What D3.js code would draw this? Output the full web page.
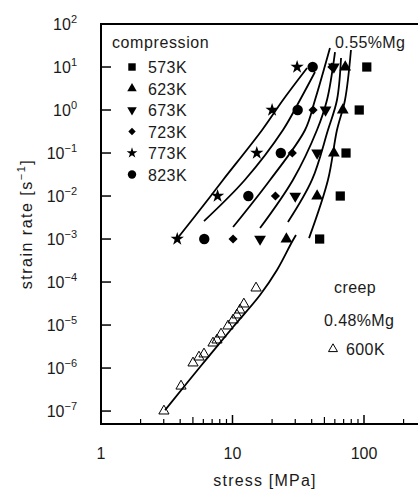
<!DOCTYPE html>
<html>
<head>
<meta charset="utf-8">
<script src="https://cdn.jsdelivr.net/npm/d3@7"></script>
<style>
  body { margin: 0; background: #fff; }
  text { font-family: "Liberation Sans", Arial, sans-serif; fill: #1a1a1a; }
</style>
</head>
<body>
<div class="canvas"></div>
<script>

// strain rates used in the compression tests
const rates = [10, 1, 0.1, 0.01, 0.001];
const temps = ['573K', '623K', '673K', '723K', '773K', '823K'];

// stress [MPa] at each strain rate, one list per temperature
const stress573 = [105, 92, 73, 66, 46];
const stress623 = [72, 69, 59, 44, 25.7];
const stress673 = [59, 51, 44, 30, 16.2];
const stress723 = [57, 41, 28.5, 21.2, 10.1];
const stress773 = [31, 20, 15.3, 7.7, 3.8];
const stress823 = [40.7, 31.3, 23.3, 13.2, 6.1];

// model curves [stress, strain rate]
const curve1 = [[3.78, 1e-3], [6.74, 9.5e-3], [8.47, 0.0236], [16.8, 0.343], [24.2, 1.71], [36.9, 9.48]];
const curve2 = [[6.07, 2.62e-3], [12.4, 0.0236], [24.2, 0.343], [32.6, 1.71], [42.4, 7.65]];
const curve3 = [[10.1, 1.9e-3], [19.3, 0.0236], [35.6, 0.343], [42.4, 1.71], [55.1, 27.7]];
const curve4 = [[16.2, 1.8e-3], [28.8, 0.0236], [43.9, 0.343], [52.3, 1.71], [60.2, 22.3]];
const curve5 = [[26.4, 2.48e-3], [40.2, 0.0236], [53.2, 0.343], [62.3, 1.71], [66.9, 16.2]];
const curve6 = [[38.2, 1.05e-3], [53.2, 0.0236], [62.3, 0.343], [71.7, 1.71], [79.6, 24.8]];

// creep, 0.48%Mg, 600K
const creepStress = [3.01, 4.06, 5.01, 5.56, 6.07, 7.11, 7.62, 8.18, 9.24, 10.1, 10.8, 11.4, 12.2, 15.1];
const creepRate = [1.0e-7, 3.8e-7, 1.31e-6, 1.8e-6, 2.12e-6, 3.81e-6, 4.48e-6, 6.17e-6, 9.48e-6, 1.31e-5, 1.71e-5, 2.23e-5, 3.08e-5, 7.25e-5];
const creepCurve = [[3.07, 1.05e-7], [5.66, 1.06e-6], [10.1, 8.99e-6], [16.2, 4.99e-5], [21.8, 1.9e-4], [28.3, 8.51e-4], [30.4, 1.24e-3]];

// axis ticks
const yTickExp = [-7, -6, -5, -4, -3, -2, -1, 0, 1, 2];
const xTickLabels = ['1', '10', '100'];
const xMinor = [2, 3, 4, 5, 6, 7, 8, 9, 20, 30, 40, 50, 60, 70, 80, 90, 200];

const width = 418, height = 492;
const svg = d3.select('.canvas')
    .append('svg')
        .attr('width', width)
        .attr('height', height);

// set scales
const x = d3.scaleLog().domain([1, 300]).range([101, 101 + 131.5 * Math.log10(300)]);
const y = d3.scaleLog().domain([5e-8, 100]).range([424, 24]);

// frame
svg.append('path')
    .attr('d', `M${x(300) + 5},24 H101 V424 H${x(300) + 5}`)
    .attr('fill', 'none')
    .attr('stroke', '#000')
    .attr('stroke-width', 2);

// y ticks (inward)
svg.selectAll('.ytick')
    .data(yTickExp.filter(e => e < 2))
    .enter().append('line')
        .attr('x1', 101).attr('x2', 111)
        .attr('y1', e => y(Math.pow(10, e)))
        .attr('y2', e => y(Math.pow(10, e)))
        .attr('stroke', '#000')
        .attr('stroke-width', 1.5);

const yLabels = svg.selectAll('.ylab')
    .data(yTickExp)
    .enter().append('text')
        .attr('x', 77)
        .attr('y', e => y(Math.pow(10, e)) + 6)
        .attr('text-anchor', 'end')
        .style('font-size', '16px');
yLabels.append('tspan').text('10');
yLabels.append('tspan')
    .attr('dy', -7)
    .style('font-size', '11px')
    .text(e => String(e).replace('-', '\u2212'));

// x ticks (inward)
svg.selectAll('.xmaj')
    .data([10, 100])
    .enter().append('line')
        .attr('x1', d => x(d)).attr('x2', d => x(d))
        .attr('y1', 424).attr('y2', 415)
        .attr('stroke', '#000').attr('stroke-width', 1.5);

svg.selectAll('.xmin')
    .data(xMinor)
    .enter().append('line')
        .attr('x1', d => x(d)).attr('x2', d => x(d))
        .attr('y1', 424).attr('y2', d => (d === 5 || d === 50) ? 417 : 419)
        .attr('stroke', '#000').attr('stroke-width', 1.2);

svg.selectAll('.xlab')
    .data(xTickLabels)
    .enter().append('text')
        .attr('x', d => x(+d))
        .attr('y', 459)
        .attr('text-anchor', 'middle')
        .style('font-size', '16px')
        .text(d => d);

// axis titles
svg.append('text')
    .attr('x', 265).attr('y', 486)
    .attr('text-anchor', 'middle')
    .style('font-size', '16px')
    .style('letter-spacing', '1.2px')
    .text('stress [MPa]');

const yTitle = svg.append('text')
    .attr('transform', 'translate(32, 224) rotate(-90)')
    .attr('text-anchor', 'middle')
    .style('font-size', '16px')
    .style('letter-spacing', '1.5px');
yTitle.append('tspan').text('strain rate [s');
yTitle.append('tspan').attr('dy', -7).style('font-size', '11px').text('\u22121');
yTitle.append('tspan').attr('dy', 7).text(']');

// curves
const line = d3.line()
    .x(d => x(d[0]))
    .y(d => y(d[1]))
    .curve(d3.curveCatmullRom.alpha(0.5));

svg.selectAll('.curve')
    .data([curve1, curve2, curve3, curve4, curve5, curve6, creepCurve])
    .enter().append('path')
        .attr('d', line)
        .attr('fill', 'none')
        .attr('stroke', '#000')
        .attr('stroke-width', 1.8);

// markers
const sym = {
    '573K': { type: d3.symbolSquare, size: 85, rot: 0 },
    '623K': { type: d3.symbolTriangle, size: 60, rot: 0 },
    '673K': { type: d3.symbolTriangle, size: 60, rot: 180 },
    '723K': { type: d3.symbolSquare, size: 42, rot: 45 },
    '773K': { type: d3.symbolStar, size: 55, rot: 0 },
    '823K': { type: d3.symbolCircle, size: 85, rot: 0 }
};
const stressByTemp = {
    '573K': stress573, '623K': stress623, '673K': stress673,
    '723K': stress723, '773K': stress773, '823K': stress823
};

temps.forEach(t => {
    const s = sym[t];
    svg.selectAll('.m' + t)
        .data(rates.map((r, i) => [stressByTemp[t][i], r]))
        .enter().append('path')
            .attr('d', d3.symbol().type(s.type).size(s.size))
            .attr('transform', d => `translate(${x(d[0])},${y(d[1])}) rotate(${s.rot})`)
            .attr('fill', '#000');
});

svg.selectAll('.creep')
    .data(creepStress.map((s, i) => [s, creepRate[i]]))
    .enter().append('path')
        .attr('d', d3.symbol().type(d3.symbolTriangle).size(45))
        .attr('transform', d => `translate(${x(d[0])},${y(d[1])})`)
        .attr('fill', 'none')
        .attr('stroke', '#000')
        .attr('stroke-width', 1);

// legend
svg.append('text')
    .attr('x', 112).attr('y', 48)
    .style('font-size', '16px')
    .style('letter-spacing', '0.6px')
    .text('compression');

const legend = svg.selectAll('.leg')
    .data(temps)
    .enter().append('g')
        .attr('transform', (d, i) => `translate(132, ${67 + i * 21.5})`);

legend.append('path')
    .attr('d', d => d3.symbol().type(sym[d].type).size(sym[d].size * 0.65)())
    .attr('transform', d => `rotate(${sym[d].rot})`)
    .attr('fill', '#000');

legend.append('text')
    .attr('x', 16).attr('y', 6)
    .style('font-size', '16px')
    .style('letter-spacing', '0.4px')
    .text(d => d);

// annotations
const notes = [
    { t: '0.55%Mg', x: 335, y: 48 },
    { t: 'creep', x: 334, y: 293 },
    { t: '0.48%Mg', x: 324, y: 326 },
    { t: '600K', x: 346, y: 355 }
];
svg.selectAll('.note')
    .data(notes)
    .enter().append('text')
        .attr('x', d => d.x).attr('y', d => d.y)
        .style('font-size', '16px')
        .style('letter-spacing', '0.4px')
        .text(d => d.t);

svg.append('path')
    .attr('d', d3.symbol().type(d3.symbolTriangle).size(35))
    .attr('transform', 'translate(333, 349)')
    .attr('fill', 'none')
    .attr('stroke', '#000')
    .attr('stroke-width', 1);

</script>
</body>
</html>
